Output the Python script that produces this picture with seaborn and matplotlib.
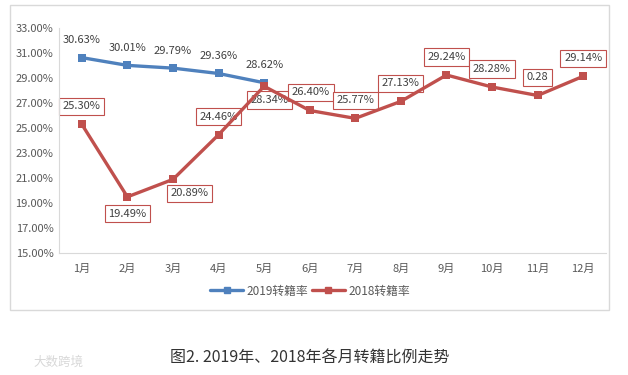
import pandas as pd
import matplotlib.pyplot as plt
import seaborn as sns
from matplotlib.patches import Rectangle
from matplotlib.lines import Line2D

# дані графіка
months = ['1月', '2月', '3月', '4月', '5月', '6月', '7月', '8月', '9月', '10月', '11月', '12月']
rate_2019 = [30.63, 30.01, 29.79, 29.36, 28.62]
rate_2018 = [25.30, 19.49, 20.89, 24.46, 28.34, 26.40, 25.77, 27.13, 29.24, 28.28, 27.60, 29.14]
labels_2019 = ['30.63%', '30.01%', '29.79%', '29.36%', '28.62%']
labels_2018 = ['25.30%', '19.49%', '20.89%', '24.46%', '28.34%', '26.40%', '25.77%',
               '27.13%', '29.24%', '28.28%', '0.28', '29.14%']
series_names = ['2019转籍率', '2018转籍率']
y_ticks = [15, 17, 19, 21, 23, 25, 27, 29, 31, 33]

blue = '#4F81BD'
red = '#C0504D'

df = pd.concat([
    pd.DataFrame({'x': range(1, len(rate_2019) + 1), 'rate': rate_2019, 'series': series_names[0]}),
    pd.DataFrame({'x': range(1, len(rate_2018) + 1), 'rate': rate_2018, 'series': series_names[1]}),
])

sns.set_style('white')
plt.rcParams['font.family'] = ['Noto Sans CJK SC', 'DejaVu Sans']

fig = plt.figure(figsize=(6.28, 3.75), dpi=100)
ax = fig.add_axes([59 / 628, 1 - 253 / 375, (606 - 59) / 628, (253 - 28) / 375])

sns.lineplot(data=df, x='x', y='rate', hue='series', palette=[blue, red],
             marker='s', markersize=6, markeredgewidth=0, linewidth=2.4,
             legend=False, ax=ax)

ax.set_xlim(0.5, 12.5)
ax.set_ylim(15, 33)
ax.set_yticks(y_ticks)
ax.set_yticklabels([f'{v:.2f}%' for v in y_ticks])
ax.set_xticks(range(1, 13))
ax.set_xticklabels(months)
ax.set_xticks([i + 0.5 for i in range(0, 13)], minor=True)
ax.tick_params(axis='x', which='major', length=0, pad=8, labelsize=8, colors='#595959')
ax.tick_params(axis='x', which='minor', length=4, direction='in', color='#BFBFBF', width=0.8)
ax.tick_params(axis='y', length=0, pad=4, labelsize=8, colors='#595959')
ax.set_xlabel('')
ax.set_ylabel('')
for side in ['top', 'right']:
    ax.spines[side].set_visible(False)
for side in ['left', 'bottom']:
    ax.spines[side].set_color('#D9D9D9')
    ax.spines[side].set_linewidth(0.8)

# підписи 2019 (без рамки, над точками)
for i, (v, t) in enumerate(zip(rate_2019, labels_2019)):
    ax.annotate(t, (i + 1, v), xytext=(0, 12.5), textcoords='offset points',
                ha='center', va='center', fontsize=8, color='#404040')

# підписи 2018 (в рамці)
offsets_2018 = [(0, 13), (0, -12), (12, -10), (0, 13), (4, -10), (1, 13),
                (0, 13), (0, 13), (0, 13), (0, 13), (0, 13), (0, 13)]
for i, (v, t) in enumerate(zip(rate_2018, labels_2018)):
    ax.annotate(t, (i + 1, v), xytext=offsets_2018[i], textcoords='offset points',
                ha='center', va='center', fontsize=8, color='#404040', zorder=1,
                bbox=dict(boxstyle='square,pad=0.33', fc='white', ec=red, lw=0.8))

# легенда
handles = [Line2D([], [], color=c, lw=2.4, marker='s', markersize=5) for c in [blue, red]]
fig.legend(handles, series_names, loc='center', bbox_to_anchor=(310 / 628, 1 - 291 / 375),
           ncol=2, frameon=False, fontsize=8.5, handlelength=2.8, columnspacing=0.3,
           handletextpad=0.3, labelcolor='#595959')

# рамка діаграми
fig.patches.append(Rectangle((10 / 628, 1 - 310 / 375), 599 / 628, 305 / 375,
                             transform=fig.transFigure, fill=False, ec='#D9D9D9', lw=1))

fig.text(310 / 628, 1 - 358 / 375, '图2. 2019年、2018年各月转籍比例走势',
         ha='center', va='center', fontsize=11.5, color='#333333')
fig.text(33 / 628, 1 - 362 / 375, '大数跨境', ha='left', va='center',
         fontsize=9, color='#D8D8D8')

fig.savefig('out.png', dpi=100)
